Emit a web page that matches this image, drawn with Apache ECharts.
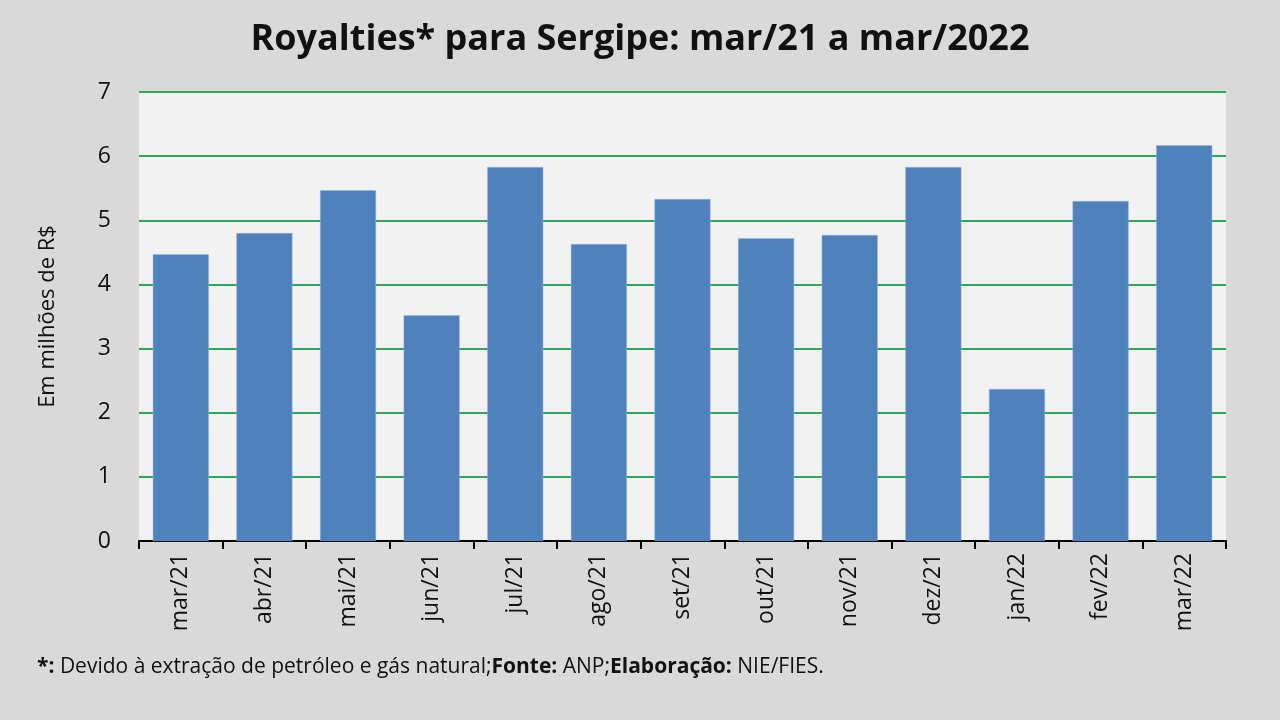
<!DOCTYPE html>
<html>
<head>
<meta charset="utf-8">
<script src="https://cdn.jsdelivr.net/npm/echarts@6/dist/echarts.min.js"></script>
<style>
  html, body { margin: 0; padding: 0; background: #d9d9d9; }
  #chart { width: 1280px; height: 720px; }
</style>
</head>
<body>
<div id="chart"></div>
<script>
var months = ['mar/21', 'abr/21', 'mai/21', 'jun/21', 'jul/21', 'ago/21', 'set/21',
  'out/21', 'nov/21', 'dez/21', 'jan/22', 'fev/22', 'mar/22'];
var royalties = [4.47, 4.80, 5.47, 3.52, 5.83, 4.63, 5.33, 4.72, 4.77, 5.83, 2.37, 5.30, 6.17];
var yTicks = [0, 1, 2, 3, 4, 5, 6, 7];

var font = '"Open Sans", "Noto Sans", sans-serif';
var chart = echarts.init(document.getElementById('chart'));

var option = {
  backgroundColor: '#d9d9d9',
  textStyle: { fontFamily: font },
  title: {
    text: 'Royalties* para Sergipe: mar/21 a mar/2022',
    left: 'center',
    top: 17,
    textStyle: { fontSize: 36, fontWeight: 'bold', color: '#111', fontFamily: font }
  },
  grid: {
    left: 139, right: 54, top: 92, bottom: 179,
    show: true, backgroundColor: '#f2f2f2', borderWidth: 0
  },
  xAxis: {
    type: 'category',
    data: months,
    axisLine: { lineStyle: { color: '#000', width: 2 } },
    axisTick: { show: true, length: 8, lineStyle: { color: '#000', width: 2 } },
    axisLabel: { rotate: 90, fontSize: 23, color: '#111', margin: 12, fontFamily: font }
  },
  yAxis: {
    type: 'value',
    min: yTicks[0],
    max: yTicks[yTicks.length - 1],
    interval: 1,
    name: 'Em milhões de R$',
    nameLocation: 'middle',
    nameGap: 80,
    nameTextStyle: { fontSize: 22, color: '#111', fontFamily: font },
    axisLine: { show: false },
    axisTick: { show: false },
    axisLabel: { fontSize: 23, color: '#111', margin: 28, fontFamily: font },
    splitLine: { lineStyle: { color: '#2ea85a', width: 2 } }
  },
  series: [{
    type: 'bar',
    data: royalties,
    barCategoryGap: '33%',
    itemStyle: { color: '#4f81bd', borderColor: '#9bb5d8', borderWidth: 0.5 }
  }],
  graphic: [{
    type: 'text',
    left: 37,
    top: 657,
    style: {
      text: '{b|*:} Devido à extração de petróleo e gás natural;{b|Fonte:} ANP;{b|Elaboração:} NIE/FIES.',
      fontSize: 21,
      fontFamily: font,
      fill: '#111',
      rich: {
        b: { fontWeight: 'bold', fontSize: 21, fontFamily: font, fill: '#111' }
      }
    }
  }]
};

chart.setOption(option);
</script>
</body>
</html>
